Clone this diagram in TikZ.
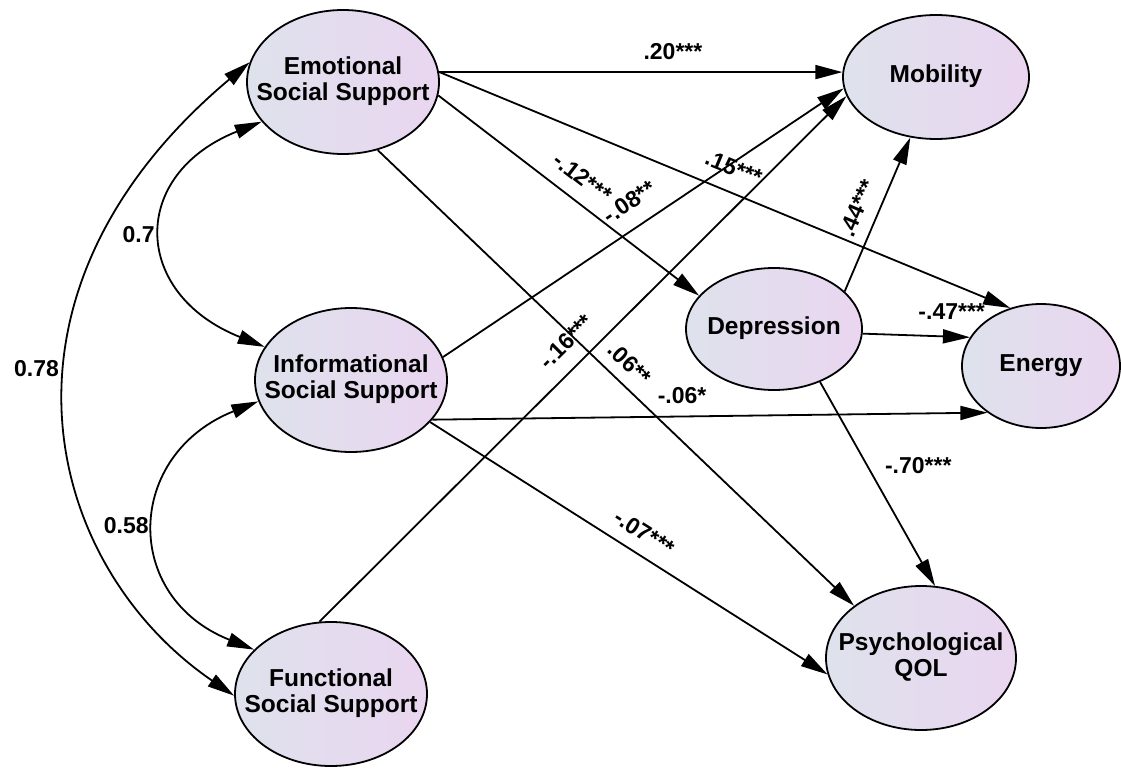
\documentclass[tikz,border=0pt]{standalone}
\usepackage{fontspec}
\setmainfont{Liberation Sans}
\usetikzlibrary{shapes.geometric, arrows.meta}
\definecolor{ellL}{RGB}{222,226,236}
\definecolor{ellR}{RGB}{234,214,240}
\newcommand{\ntext}[1]{\makebox[0pt]{\begin{tabular}{@{}c@{}}#1\end{tabular}}}

\begin{document}
\begin{tikzpicture}[x=1pt, y=-1pt,
  latent/.style={ellipse, draw, line width=1.8pt, left color=ellL, right color=ellR, inner sep=0pt,
    font=\fontsize{24.5}{26.5}\selectfont\bfseries},
  effect/.style={line width=1.8pt, -{Triangle[length=27pt, width=14pt]}},
  cov/.style={line width=1.8pt, {Triangle[length=27pt, width=14pt]}-{Triangle[length=27pt, width=14pt]}},
  coef/.style={font=\fontsize{23}{25}\selectfont\bfseries, inner sep=1pt}]
  \useasboundingbox (0,0) rectangle (1121,768);
  \node[latent, minimum width=192pt, minimum height=144pt] (emo) at (343,82) {\ntext{Emotional\\Social Support}};
  \node[latent, minimum width=192pt, minimum height=144pt] (inf) at (351,380) {\ntext{Informational\\Social Support}};
  \node[latent, minimum width=192pt, minimum height=144pt] (fun) at (331,694) {\ntext{Functional\\Social Support}};
  \node[latent, minimum width=186pt, minimum height=124pt] (mob) at (936,77) {\ntext{Mobility}};
  \node[latent, minimum width=176pt, minimum height=122pt] (dep) at (774,329) {\ntext{Depression}};
  \node[latent, minimum width=158pt, minimum height=124pt] (ene) at (1041,366) {\ntext{Energy}};
  \node[latent, minimum width=190pt, minimum height=144pt] (psy) at (921,658) {\ntext{Psychological\\QOL}};

  \draw[cov] (emo.206) .. controls +(-133,53) and +(-133,-53) .. node[coef, left=7pt] {0.7} (inf.159);
  \draw[cov] (inf.193) .. controls +(-133,53) and +(-133,-53) .. node[coef, left=6pt] {0.58} (fun.150);
  \draw[cov] (emo.168) .. controls +(-276,232) and +(-190,-130) .. node[coef, pos=.43, left=7pt] {0.78} (fun.181);

  \draw[effect] (emo.6) -- node[coef, pos=.58, above=10pt] {.20***} (mob.177);
  \draw[effect] (emo.6) -- node[coef, sloped, above=14pt] {.15***} (ene.118);
  \draw[effect] (emo.352) -- node[coef, sloped, above=13pt] {-.12***} (dep.156);
  \draw[effect] (emo.297) -- node[coef, sloped, above=10pt] {.06**} (psy.142);
  \draw[effect] (inf.14.5) -- node[coef, sloped, above=15pt] {-.08**} (mob.187);
  \draw[effect] (inf.334) -- node[coef, pos=.45, above=11pt] {-.06*} (ene.221);
  \draw[effect] (inf.332) -- node[coef, pos=.51, sloped, above=11.5pt] {-.07***} (psy.190);
  \draw[effect] (fun.99) -- node[coef, sloped, above=14pt] {-.16***} (mob.192);
  \draw[effect] (dep.28) -- node[coef, pos=.49, sloped, above=11pt] {.44***} (mob.247);
  \draw[effect] (dep.357) -- node[coef, pos=.83, above=15pt] {-.47***} (ene.158);
  \draw[effect] (dep.311) -- node[coef, pos=.41, right=16pt] {-.70***} (psy.79);
\end{tikzpicture}
\end{document}
